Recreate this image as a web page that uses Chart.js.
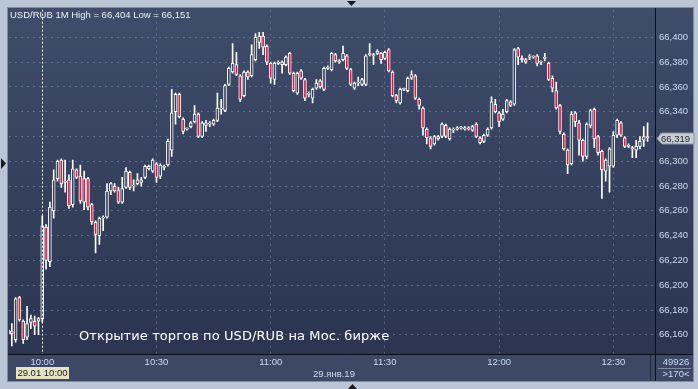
<!DOCTYPE html>
<html>
<head>
<meta charset="utf-8">
<script src="https://cdn.jsdelivr.net/npm/chart.js@4.4.0/dist/chart.umd.min.js"></script>
<style>
    html, body { margin: 0; padding: 0; background: #bac6d6; }
    #contenedor { width: 698px; height: 389px; }
</style>
</head>
<body>
<div id="contenedor"><canvas id="grafico" width="698" height="389"></canvas></div>
<script>
// Velas de 1 minuto USD/RUB, 29.01.2019
var horas = [
    '09:51','09:52','09:53','09:54','09:55','09:56','09:57','09:58','09:59',
    '10:00','10:01','10:02','10:03','10:04','10:05','10:06','10:07','10:08','10:09',
    '10:10','10:11','10:12','10:13','10:14','10:15','10:16','10:17','10:18','10:19',
    '10:20','10:21','10:22','10:23','10:24','10:25','10:26','10:27','10:28','10:29',
    '10:30','10:31','10:32','10:33','10:34','10:35','10:36','10:37','10:38','10:39',
    '10:40','10:41','10:42','10:43','10:44','10:45','10:46','10:47','10:48','10:49',
    '10:50','10:51','10:52','10:53','10:54','10:55','10:56','10:57','10:58','10:59',
    '11:00','11:01','11:02','11:03','11:04','11:05','11:06','11:07','11:08','11:09',
    '11:10','11:11','11:12','11:13','11:14','11:15','11:16','11:17','11:18','11:19',
    '11:20','11:21','11:22','11:23','11:24','11:25','11:26','11:27','11:28','11:29',
    '11:30','11:31','11:32','11:33','11:34','11:35','11:36','11:37','11:38','11:39',
    '11:40','11:41','11:42','11:43','11:44','11:45','11:46','11:47','11:48','11:49',
    '11:50','11:51','11:52','11:53','11:54','11:55','11:56','11:57','11:58','11:59',
    '12:00','12:01','12:02','12:03','12:04','12:05','12:06','12:07','12:08','12:09',
    '12:10','12:11','12:12','12:13','12:14','12:15','12:16','12:17','12:18','12:19',
    '12:20','12:21','12:22','12:23','12:24','12:25','12:26','12:27','12:28','12:29',
    '12:30','12:31','12:32','12:33','12:34','12:35','12:36','12:37','12:38','12:39'
];

var aperturas = [
    66.161, 66.163, 66.156, 66.190, 66.171, 66.158, 66.170, 66.171, 66.171,
    66.173, 66.247, 66.219, 66.260, 66.286, 66.301, 66.283, 66.285, 66.265, 66.293,
    66.288, 66.286, 66.286, 66.265, 66.251, 66.240, 66.254, 66.255, 66.276, 66.280,
    66.277, 66.267, 66.279, 66.291, 66.280, 66.282, 66.283, 66.287, 66.294, 66.292,
    66.298, 66.288, 66.295, 66.297, 66.309, 66.340, 66.354, 66.334, 66.326, 66.328,
    66.332, 66.338, 66.320, 66.329, 66.330, 66.330, 66.333, 66.342, 66.341, 66.362,
    66.372, 66.378, 66.369, 66.353, 66.372, 66.369, 66.382, 66.396, 66.401, 66.393,
    66.379, 66.366, 66.379, 66.378, 66.378, 66.387, 66.371, 66.355, 66.373, 66.366,
    66.354, 66.351, 66.359, 66.365, 66.358, 66.375, 66.374, 66.386, 66.381, 66.382,
    66.385, 66.374, 66.359, 66.363, 66.362, 66.362, 66.386, 66.386, 66.387, 66.387,
    66.383, 66.390, 66.372, 66.353, 66.347, 66.358, 66.357, 66.367, 66.369, 66.350,
    66.343, 66.326, 66.319, 66.314, 66.318, 66.320, 66.329, 66.318, 66.325, 66.326,
    66.327, 66.326, 66.327, 66.325, 66.330, 66.319, 66.316, 66.321, 66.327, 66.346,
    66.339, 66.334, 66.340, 66.348, 66.346, 66.391, 66.383, 66.382, 66.384, 66.384,
    66.385, 66.380, 66.383, 66.379, 66.367, 66.357, 66.345, 66.322, 66.309, 66.298,
    66.339, 66.331, 66.317, 66.304, 66.329, 66.342, 66.320, 66.308, 66.292, 66.296,
    66.296, 66.321, 66.331, 66.319, 66.313, 66.310, 66.309, 66.312, 66.317, 66.320
];

var maximos = [
    66.165, 66.169, 66.190, 66.191, 66.172, 66.183, 66.176, 66.175, 66.174,
    66.256, 66.249, 66.267, 66.293, 66.301, 66.302, 66.301, 66.289, 66.301, 66.294,
    66.297, 66.292, 66.287, 66.266, 66.252, 66.255, 66.256, 66.282, 66.283, 66.282,
    66.279, 66.287, 66.295, 66.292, 66.285, 66.290, 66.287, 66.297, 66.297, 66.302,
    66.299, 66.298, 66.297, 66.318, 66.358, 66.355, 66.355, 66.335, 66.327, 66.332,
    66.345, 66.339, 66.332, 66.333, 66.332, 66.334, 66.355, 66.350, 66.362, 66.376,
    66.395, 66.388, 66.370, 66.373, 66.373, 66.394, 66.403, 66.404, 66.404, 66.394,
    66.380, 66.380, 66.381, 66.381, 66.385, 66.388, 66.372, 66.372, 66.374, 66.367,
    66.356, 66.359, 66.366, 66.366, 66.376, 66.377, 66.388, 66.387, 66.382, 66.393,
    66.386, 66.375, 66.364, 66.368, 66.367, 66.386, 66.395, 66.387, 66.390, 66.388,
    66.389, 66.391, 66.373, 66.354, 66.359, 66.359, 66.368, 66.373, 66.370, 66.351,
    66.344, 66.327, 66.320, 66.321, 66.321, 66.331, 66.330, 66.327, 66.327, 66.328,
    66.328, 66.328, 66.328, 66.329, 66.331, 66.320, 66.322, 66.327, 66.352, 66.350,
    66.340, 66.342, 66.350, 66.349, 66.391, 66.392, 66.385, 66.383, 66.386, 66.385,
    66.386, 66.381, 66.387, 66.380, 66.369, 66.364, 66.346, 66.323, 66.310, 66.340,
    66.340, 66.333, 66.318, 66.331, 66.342, 66.343, 66.321, 66.309, 66.302, 66.311,
    66.324, 66.334, 66.332, 66.320, 66.314, 66.312, 66.317, 66.320, 66.328, 66.331
];

var minimos = [
    66.159, 66.151, 66.154, 66.171, 66.153, 66.156, 66.165, 66.160, 66.160,
    66.170, 66.213, 66.215, 66.254, 66.284, 66.279, 66.275, 66.262, 66.263, 66.286,
    66.266, 66.261, 66.261, 66.249, 66.226, 66.233, 66.244, 66.254, 66.273, 66.275,
    66.266, 66.266, 66.278, 66.277, 66.276, 66.281, 66.280, 66.286, 66.293, 66.291,
    66.283, 66.286, 66.293, 66.296, 66.304, 66.330, 66.335, 66.322, 66.325, 66.327,
    66.331, 66.319, 66.319, 66.324, 66.328, 66.329, 66.332, 66.338, 66.340, 66.361,
    66.371, 66.369, 66.348, 66.352, 66.366, 66.368, 66.381, 66.391, 66.386, 66.378,
    66.363, 66.362, 66.378, 66.371, 66.377, 66.370, 66.356, 66.354, 66.366, 66.349,
    66.352, 66.347, 66.358, 66.359, 66.357, 66.374, 66.373, 66.380, 66.379, 66.381,
    66.374, 66.361, 66.358, 66.361, 66.361, 66.361, 66.385, 66.378, 66.386, 66.379,
    66.382, 66.372, 66.352, 66.347, 66.346, 66.357, 66.356, 66.366, 66.350, 66.342,
    66.321, 66.314, 66.310, 66.313, 66.317, 66.319, 66.319, 66.317, 66.323, 66.325,
    66.326, 66.325, 66.325, 66.324, 66.319, 66.314, 66.315, 66.320, 66.326, 66.339,
    66.328, 66.333, 66.339, 66.344, 66.345, 66.378, 66.380, 66.379, 66.382, 66.383,
    66.377, 66.378, 66.381, 66.365, 66.356, 66.342, 66.322, 66.309, 66.290, 66.297,
    66.328, 66.305, 66.300, 66.302, 66.327, 66.311, 66.305, 66.270, 66.284, 66.275,
    66.295, 66.319, 66.320, 66.311, 66.311, 66.303, 66.303, 66.310, 66.312, 66.316
];

var cierres = [
    66.164, 66.161, 66.189, 66.172, 66.156, 66.169, 66.173, 66.167, 66.173,
    66.248, 66.220, 66.263, 66.285, 66.300, 66.282, 66.284, 66.264, 66.294, 66.287,
    66.268, 66.267, 66.263, 66.251, 66.241, 66.254, 66.255, 66.276, 66.282, 66.276,
    66.267, 66.278, 66.292, 66.279, 66.281, 66.285, 66.285, 66.296, 66.296, 66.301,
    66.287, 66.297, 66.296, 66.316, 66.339, 66.354, 66.336, 66.324, 66.326, 66.331,
    66.338, 66.320, 66.331, 66.331, 66.330, 66.333, 66.343, 66.343, 66.361, 66.375,
    66.379, 66.370, 66.350, 66.372, 66.368, 66.386, 66.400, 66.401, 66.392, 66.380,
    66.367, 66.379, 66.380, 66.380, 66.384, 66.371, 66.357, 66.371, 66.367, 66.351,
    66.354, 66.358, 66.363, 66.360, 66.375, 66.375, 66.387, 66.381, 66.380, 66.387,
    66.375, 66.362, 66.363, 66.363, 66.366, 66.385, 66.386, 66.385, 66.389, 66.382,
    66.388, 66.373, 66.353, 66.349, 66.358, 66.358, 66.367, 66.370, 66.351, 66.345,
    66.327, 66.319, 66.312, 66.320, 66.320, 66.330, 66.320, 66.326, 66.326, 66.327,
    66.327, 66.327, 66.326, 66.328, 66.320, 66.315, 66.321, 66.326, 66.348, 66.340,
    66.332, 66.338, 66.349, 66.345, 66.390, 66.384, 66.382, 66.380, 66.384, 66.384,
    66.379, 66.380, 66.383, 66.366, 66.359, 66.343, 66.324, 66.310, 66.297, 66.338,
    66.332, 66.317, 66.304, 66.330, 66.341, 66.318, 66.307, 66.293, 66.301, 66.310,
    66.321, 66.333, 66.321, 66.312, 66.312, 66.311, 66.312, 66.316, 66.320, 66.319
];

// Marcas de los ejes
var ticksY = [66.16, 66.18, 66.20, 66.22, 66.24, 66.26, 66.28, 66.30, 66.32, 66.34, 66.36, 66.38, 66.40];
var ticksX = [0, 30, 60, 90, 120, 150]; // minutos desde las 10:00
var etiquetasX = ['10:00', '10:30', '11:00', '11:30', '12:00', '12:30'];

var rojo = '#e3173f';
var hueco = '#36425f';
var colorRejilla = 'rgba(128,144,176,0.55)';
var colorTexto = '#cddbf0';

// minutos respecto a las 10:00
function minutos(h) {
    var p = h.split(':');
    return parseInt(p[0]) * 60 + parseInt(p[1]) - 600;
}

function formato(v) {
    return v.toFixed(3).replace('.', ',');
}

var cuerpos = [];
var mechas = [];
var coloresCuerpo = [];
horas.forEach(function(h, i) {
    var x = minutos(h);
    cuerpos.push({ x: x, y: [aperturas[i], cierres[i]] });
    mechas.push({ x: x, y: [minimos[i], maximos[i]] });
    coloresCuerpo.push(cierres[i] < aperturas[i] ? rojo : hueco);
});

// Fondo, marco y flechitas
var fondo = {
    id: 'fondo',
    beforeDraw: function(chart) {
        var c = chart.ctx;
        c.save();
        c.fillStyle = '#bac6d6';
        c.fillRect(0, 0, 698, 389);
        var g = c.createLinearGradient(0, 8, 0, 354);
        g.addColorStop(0, '#3f4c6a');
        g.addColorStop(1, '#2b3551');
        c.fillStyle = g;
        c.fillRect(8, 8, 685, 346);
        c.fillStyle = '#3c4866';
        c.fillRect(8, 354, 685, 27);
        c.strokeStyle = '#7f8ca3';
        c.lineWidth = 1;
        c.strokeRect(7.5, 7.5, 686, 374);
        c.fillStyle = '#161a23';
        c.beginPath(); c.moveTo(347, 1); c.lineTo(356, 1); c.lineTo(351.5, 6); c.closePath(); c.fill();
        c.beginPath(); c.moveTo(1, 158); c.lineTo(6, 163.5); c.lineTo(1, 169); c.closePath(); c.fill();
        c.beginPath(); c.moveTo(348, 389); c.lineTo(357, 389); c.lineTo(352.5, 384); c.closePath(); c.fill();
        c.restore();
    }
};

// Textos, líneas de los ejes, sesión y precio actual
var extras = {
    id: 'extras',
    afterDraw: function(chart) {
        var c = chart.ctx;
        var ejeX = chart.scales.x;
        var ejeY = chart.scales.y;
        var area = chart.chartArea;
        c.save();

        // línea de apertura de la sesión
        var xs = Math.round(ejeX.getPixelForValue(0)) + 0.5;
        c.strokeStyle = '#ffffff';
        c.lineWidth = 1;
        c.setLineDash([2, 2]);
        c.beginPath(); c.moveTo(xs, area.top); c.lineTo(xs, area.bottom); c.stroke();
        c.setLineDash([]);

        // bordes de los ejes
        c.strokeStyle = '#0c0f16';
        c.beginPath(); c.moveTo(8, area.bottom + 0.5); c.lineTo(693, area.bottom + 0.5); c.stroke();
        c.beginPath(); c.moveTo(area.right + 0.5, 8); c.lineTo(area.right + 0.5, 381); c.stroke();
        c.strokeStyle = '#252c3c';
        c.beginPath(); c.moveTo(650.5, area.bottom + 1); c.lineTo(650.5, 381); c.stroke();

        // título
        var alto = Math.max.apply(null, maximos);
        var bajo = Math.min.apply(null, minimos);
        c.font = '9.5px "Liberation Sans"';
        c.fillStyle = '#eef2f8';
        c.textBaseline = 'middle';
        c.textAlign = 'left';
        c.fillText('USD/RUB 1M High = ' + formato(alto) + ' Low = ' + formato(bajo), 10, 15);

        // nota
        var nota = 'Открытие торгов по USD/RUB на Мос. бирже';
        c.font = '13px "DejaVu Sans"';
        var ancho = c.measureText(nota).width;
        if ('letterSpacing' in c) c.letterSpacing = ((310 - ancho) / (nota.length - 1)).toFixed(2) + 'px';
        c.fillStyle = '#ffffff';
        c.fillText(nota, 79, 337);
        if ('letterSpacing' in c) c.letterSpacing = '0px';

        // etiqueta del último precio
        var ultimo = cierres[cierres.length - 1];
        var yp = Math.round(ejeY.getPixelForValue(ultimo)) + 0.5;
        c.fillStyle = '#c9cdd4';
        c.strokeStyle = '#8a93a2';
        c.beginPath();
        c.moveTo(657, yp);
        c.lineTo(662, yp - 5.5);
        c.lineTo(694, yp - 5.5);
        c.lineTo(694, yp + 5.5);
        c.lineTo(662, yp + 5.5);
        c.closePath();
        c.fill(); c.stroke();
        c.font = '9.5px "Liberation Sans"';
        c.fillStyle = '#1b2231';
        c.fillText(formato(ultimo), 661, yp + 0.5);

        // fecha bajo el eje
        c.fillStyle = '#e6e2c6';
        c.fillRect(16, 367, 53, 12);
        c.fillStyle = '#1a1a1a';
        c.textAlign = 'center';
        c.fillText('29.01 10:00', 42.5, 373.5);
        c.fillStyle = colorTexto;
        c.fillText('29.янв.19', 334, 374);

        // esquina inferior derecha
        c.fillText('49926', 676, 362);
        c.strokeStyle = '#7d8aa2';
        c.beginPath(); c.moveTo(658, 368.5); c.lineTo(691, 368.5); c.stroke();
        c.fillText('>170<', 676, 374.5);

        c.restore();
    }
};

var ctx = document.getElementById('grafico').getContext('2d');
var grafico = new Chart(ctx, {
    type: 'bar',
    data: {
        datasets: [{
            label: 'Cuerpo',
            data: cuerpos,
            backgroundColor: coloresCuerpo,
            borderColor: '#ffffff',
            borderWidth: 1,
            borderSkipped: false,
            barThickness: 3,
            minBarLength: 1,
            grouped: false,
            order: 0
        }, {
            label: 'Mecha',
            data: mechas,
            backgroundColor: '#ffffff',
            borderWidth: 0,
            barThickness: 1,
            grouped: false,
            order: 1
        }]
    },
    options: {
        responsive: false,
        animation: false,
        devicePixelRatio: 1,
        layout: { padding: { left: 9, top: 8, right: 5, bottom: 8 } },
        plugins: {
            legend: { display: false },
            tooltip: { enabled: false }
        },
        scales: {
            x: {
                type: 'linear',
                min: -8.74,
                max: 160.95,
                offset: false,
                grid: {
                    offset: false,
                    drawTicks: false,
                    color: function(c) {
                        return (c.tick && c.tick.value === 0) ? 'rgba(0,0,0,0)' : colorRejilla;
                    }
                },
                border: { display: false, dash: [2, 4] },
                afterBuildTicks: function(eje) {
                    eje.ticks = ticksX.map(function(v) { return { value: v }; });
                },
                afterFit: function(eje) { eje.height = 27; },
                ticks: {
                    autoSkip: false,
                    maxRotation: 0,
                    padding: 3,
                    color: colorTexto,
                    font: { family: 'Liberation Sans', size: 9.5 },
                    callback: function(v) { return etiquetasX[ticksX.indexOf(v)]; }
                }
            },
            y: {
                type: 'linear',
                position: 'right',
                min: 66.1445,
                max: 66.4223,
                grid: { drawTicks: false, color: colorRejilla },
                border: { display: false, dash: [2, 4] },
                afterBuildTicks: function(eje) {
                    eje.ticks = ticksY.map(function(v) { return { value: v }; });
                },
                afterFit: function(eje) { eje.width = 38; },
                ticks: {
                    padding: 4,
                    crossAlign: 'near',
                    color: colorTexto,
                    font: { family: 'Liberation Sans', size: 9.5 },
                    callback: function(v) { return formato(v); }
                }
            }
        }
    },
    plugins: [fondo, extras]
});
</script>
</body>
</html>
